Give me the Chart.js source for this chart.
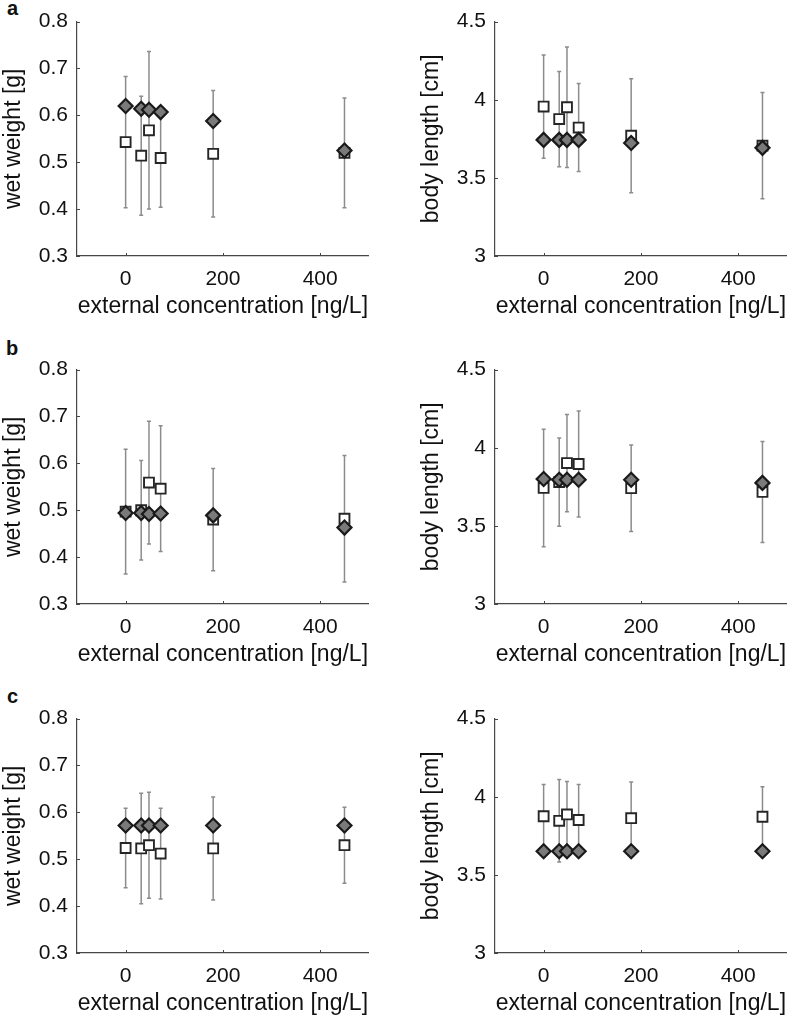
<!DOCTYPE html>
<html>
<head>
<meta charset="utf-8">
<script src="https://cdn.jsdelivr.net/npm/chart.js@4.4.1/dist/chart.umd.min.js"></script>
<style>
body { margin: 0; background: #fff; width: 796px; height: 1017px; position: relative; overflow: hidden; font-family: "Liberation Sans", Arial, sans-serif; }
canvas { position: absolute; }
.tag { position: absolute; font-weight: bold; font-size: 20px; line-height: 20px; color: #111; }
</style>
</head>
<body>
<div class="tag" style="left:7px;top:-2px">a</div>
<div class="tag" style="left:6px;top:338px">b</div>
<div class="tag" style="left:7px;top:686px">c</div>
<canvas id="weightA" width="378" height="331" style="left:0;top:0"></canvas>
<canvas id="lengthA" width="378" height="331" style="left:418px;top:0"></canvas>
<canvas id="weightB" width="378" height="331" style="left:0;top:348px"></canvas>
<canvas id="lengthB" width="378" height="331" style="left:418px;top:348px"></canvas>
<canvas id="weightC" width="378" height="331" style="left:0;top:697px"></canvas>
<canvas id="lengthC" width="378" height="331" style="left:418px;top:697px"></canvas>
<script>
var concentration = [0, 32, 48, 72, 180, 450];
var xTicks = [0, 200, 400];
var weightTicks = [0.3, 0.4, 0.5, 0.6, 0.7, 0.8];
var lengthTicks = [3, 3.5, 4, 4.5];

// a
var weightA_open = [0.543, 0.514, 0.568, 0.509, 0.518, 0.520];
var weightA_sd = [0.140, 0.127, 0.168, 0.105, 0.135, 0.117];
var weightA_filled = [0.620, 0.614, 0.612, 0.607, 0.588, 0.525];
var lengthA_open = [3.956, 3.876, 3.952, 3.822, 3.770, 3.706];
var lengthA_sd = [0.330, 0.305, 0.386, 0.282, 0.365, 0.340];
var lengthA_filled = [3.743, 3.743, 3.743, 3.743, 3.723, 3.692];

// b
var weightB_open = [0.497, 0.500, 0.559, 0.546, 0.480, 0.482];
var weightB_sd = [0.133, 0.106, 0.131, 0.134, 0.109, 0.135];
var weightB_filled = [0.494, 0.494, 0.492, 0.493, 0.489, 0.463];
var lengthB_open = [3.743, 3.780, 3.902, 3.896, 3.741, 3.717];
var lengthB_sd = [0.376, 0.282, 0.311, 0.339, 0.277, 0.323];
var lengthB_filled = [3.800, 3.795, 3.795, 3.795, 3.795, 3.775];

// c
var weightC_open = [0.524, 0.523, 0.530, 0.512, 0.523, 0.530];
var weightC_sd = [0.085, 0.118, 0.113, 0.097, 0.110, 0.081];
var weightC_filled = [0.572, 0.572, 0.572, 0.572, 0.572, 0.572];
var lengthC_open = [3.875, 3.846, 3.887, 3.851, 3.863, 3.872];
var lengthC_sd = [0.203, 0.264, 0.211, 0.227, 0.231, 0.192];
var lengthC_filled = [3.651, 3.651, 3.651, 3.651, 3.651, 3.651];

Chart.defaults.font.family = '"Liberation Sans", Arial, sans-serif';
var axisColor = '#474747';

// vertical error bars, drawn under the markers
var errorBars = {
    id: 'errorBars',
    beforeDatasetsDraw: function (chart) {
        var ctx = chart.ctx, xs = chart.scales.x, ys = chart.scales.y;
        ctx.save();
        ctx.strokeStyle = '#8c8c8c';
        ctx.lineWidth = 1.5;
        chart.data.datasets.forEach(function (ds) {
            if (!ds.errors) return;
            ds.data.forEach(function (p, i) {
                var px = xs.getPixelForValue(p.x);
                var top = ys.getPixelForValue(p.y + ds.errors[i]);
                var bot = ys.getPixelForValue(p.y - ds.errors[i]);
                ctx.beginPath();
                ctx.moveTo(px, top); ctx.lineTo(px, bot);
                ctx.moveTo(px - 2, top); ctx.lineTo(px + 2, top);
                ctx.moveTo(px - 2, bot); ctx.lineTo(px + 2, bot);
                ctx.stroke();
            });
        });
        ctx.restore();
    }
};

// small tick marks pointing into the plot
var innerTicks = {
    id: 'innerTicks',
    afterDraw: function (chart) {
        var ctx = chart.ctx, a = chart.chartArea;
        ctx.save();
        ctx.strokeStyle = axisColor;
        ctx.lineWidth = 1;
        ctx.beginPath();
        chart.scales.x.ticks.forEach(function (t) {
            var px = Math.round(chart.scales.x.getPixelForValue(t.value)) + 0.5;
            ctx.moveTo(px, a.bottom); ctx.lineTo(px, a.bottom - 3);
        });
        chart.scales.y.ticks.forEach(function (t) {
            var py = Math.round(chart.scales.y.getPixelForValue(t.value)) + 0.5;
            ctx.moveTo(a.left, py); ctx.lineTo(a.left + 3, py);
        });
        ctx.stroke();
        ctx.restore();
    }
};

function points(vals) {
    return concentration.map(function (c, i) { return {x: c, y: vals[i]}; });
}

function makePanel(id, yTitle, yTicks, open, sd, filled) {
    var ctx = document.getElementById(id).getContext('2d');
    return new Chart(ctx, {
        type: 'scatter',
        data: {
            datasets: [{
                label: 'filled',
                data: points(filled),
                pointStyle: 'rectRot',
                pointRadius: 7,
                pointHoverRadius: 7,
                backgroundColor: '#7a7a7a',
                borderColor: '#1a1a1a',
                borderWidth: 2.2
            }, {
                label: 'open',
                data: points(open),
                errors: sd,
                pointStyle: 'rect',
                pointRadius: 7,
                pointHoverRadius: 7,
                backgroundColor: '#ffffff',
                borderColor: '#262626',
                borderWidth: 1.9
            }]
        },
        options: {
            responsive: false,
            animation: false,
            layout: { padding: { top: 8, right: 2, left: 0, bottom: 0 } },
            plugins: { legend: { display: false }, tooltip: { enabled: false } },
            scales: {
                x: {
                    type: 'linear',
                    min: -100,
                    max: 500,
                    afterBuildTicks: function (s) { s.ticks = xTicks.map(function (v) { return {value: v}; }); },
                    afterFit: function (s) { s.height = 75; },
                    grid: { display: false, drawTicks: false },
                    border: { display: true, color: axisColor, width: 1.2 },
                    ticks: { padding: 11, color: '#111', font: { size: 21 }, maxRotation: 0, autoSkip: false },
                    title: { display: true, text: 'external concentration [ng/L]', color: '#111', font: { size: 23 }, padding: { top: 0, bottom: 11 } }
                },
                y: {
                    type: 'linear',
                    min: yTicks[0],
                    max: yTicks[yTicks.length - 1],
                    afterBuildTicks: function (s) { s.ticks = yTicks.map(function (v) { return {value: v}; }); },
                    afterFit: function (s) { s.width = 77; },
                    grid: { display: false, drawTicks: false },
                    border: { display: true, color: axisColor, width: 1.2 },
                    ticks: {
                        padding: 9, color: '#111', font: { size: 21 },
                        callback: function (v) { return String(+v.toFixed(2)); }
                    },
                    title: { display: true, text: yTitle, color: '#111', font: { size: 23 }, padding: { top: 0, bottom: 0 } }
                }
            }
        },
        plugins: [errorBars, innerTicks]
    });
}

makePanel('weightA', 'wet weight [g]', weightTicks, weightA_open, weightA_sd, weightA_filled);
makePanel('lengthA', 'body length [cm]', lengthTicks, lengthA_open, lengthA_sd, lengthA_filled);
makePanel('weightB', 'wet weight [g]', weightTicks, weightB_open, weightB_sd, weightB_filled);
makePanel('lengthB', 'body length [cm]', lengthTicks, lengthB_open, lengthB_sd, lengthB_filled);
makePanel('weightC', 'wet weight [g]', weightTicks, weightC_open, weightC_sd, weightC_filled);
makePanel('lengthC', 'body length [cm]', lengthTicks, lengthC_open, lengthC_sd, lengthC_filled);
</script>
</body>
</html>
